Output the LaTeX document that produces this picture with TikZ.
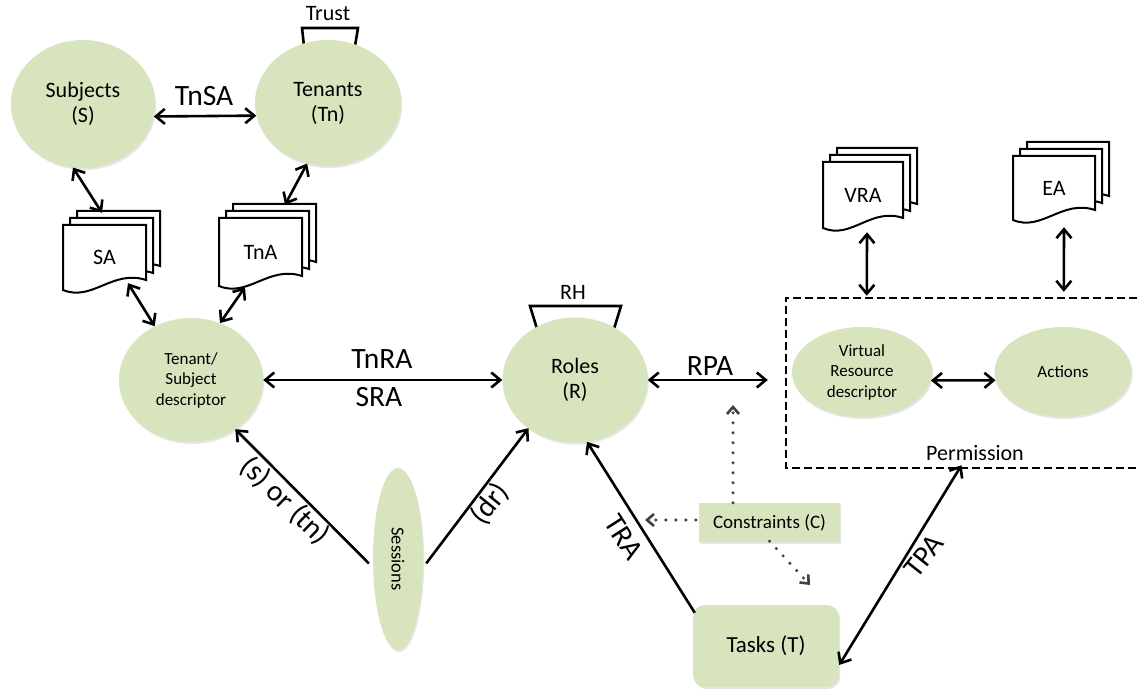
\documentclass[tikz,border=0pt]{standalone}
\usepackage{fontspec}
\setmainfont{Carlito}
\usetikzlibrary{arrows.meta,shapes.geometric,shadows}

\definecolor{leaf}{RGB}{215,228,189}
\definecolor{dotgray}{RGB}{64,64,64}

\tikzset{
  >={Straight Barb[length=9pt,width=15pt]},
  softshadow/.style={drop shadow={opacity=0.2,shadow xshift=1.2pt,shadow yshift=-2pt}},
  blob/.style={ellipse, fill=leaf, inner sep=0pt, align=center, softshadow},
  boxnode/.style={rectangle, fill=leaf, inner sep=0pt, align=center, softshadow},
  bigtxt/.style={font=\fontsize{22}{25}\selectfont},
  smalltxt/.style={font=\fontsize{17}{20.5}\selectfont},
  reltxt/.style={font=\fontsize{29.5}{32}\selectfont, inner sep=0pt},
  link/.style={line width=2.6pt},
  hint/.style={line width=3.4pt, dotgray, line cap=round, dash pattern=on 0pt off 10pt,
               -{Straight Barb[length=7pt,width=12pt,line width=2.6pt,line cap=butt]}},
  docline/.style={line width=2pt, fill=white, line join=miter},
  doclabel/.style={rectangle, inner sep=0pt, font=\fontsize{22}{24}\selectfont},
  bracket/.style={line width=2.6pt, line join=miter},
  permline/.style={line width=2.4pt, dash pattern=on 8pt off 4pt},
}

% one sheet with a wavy lower edge
\newcommand{\sheetpath}[4]{%
  \draw[docline] ({#1},{#2}) -- ({#1+#3},{#2}) -- ({#1+#3},{#2+#4})
    .. controls ({#1+0.6*#3},{#2+#4-11}) and ({#1+0.35*#3},{#2+#4+22}) .. ({#1},{#2+#4+10}) -- cycle;}
% a stack of three sheets with its label node
\newcommand{\sheetstack}[6]{%
  \sheetpath{#2+14}{#3-14}{#4}{#5}%
  \sheetpath{#2+7}{#3-7}{#4}{#5}%
  \sheetpath{#2}{#3}{#4}{#5}%
  \node[doclabel, minimum width=#4, minimum height=#5+10] (#1) at ({#2+#4/2},{#3+(#5+10)/2}) {#6};}

\begin{document}
\begin{tikzpicture}[x=1pt,y=-1pt]
\useasboundingbox (0,0) rectangle (1137,692);

% hierarchy brackets on top of Tenants and Roles
\draw[bracket] (304,46) -- (302,28) -- (358,28) -- (355,46);
\node[font=\fontsize{22}{24}\selectfont] (trust) at (328,14) {Trust};
\draw[bracket] (538,332) -- (530,306) -- (621,306) -- (613,332);
\node[font=\fontsize{22}{24}\selectfont] (rh) at (573,292) {RH};

% main entities
\node[blob, bigtxt, minimum width=144, minimum height=128] (S) at (83,104) {Subjects\\(S)};
\node[blob, bigtxt, minimum width=146, minimum height=126] (Tn) at (328,103) {Tenants\\(Tn)};
\node[blob, smalltxt, minimum width=144, minimum height=124] (TSD) at (191,380) {Tenant/\\Subject\\descriptor};
\node[blob, bigtxt, minimum width=145, minimum height=125] (R) at (575,380) {Roles\\(R)};
\node[blob, minimum width=50, minimum height=182] (Sess) at (398,559)
  {\rotatebox{-90}{\fontsize{18.5}{20}\selectfont Sessions}};
\node[boxnode, rounded corners=12pt, minimum width=146, minimum height=82,
      font=\fontsize{23}{25}\selectfont] (T) at (766,646) {Tasks (T)};
\node[boxnode, minimum width=141, minimum height=39,
      font=\fontsize{19}{22}\selectfont] (C) at (769.5,522.5) {Constraints (C)};

% permission group
\node[rectangle, inner sep=0pt, minimum width=351, minimum height=170] (perm) at (961.5,383) {};
\draw[permline] (perm.north east) -- (perm.north west) -- (perm.south west) -- (perm.south east);
\node[font=\fontsize{22}{24}\selectfont] (permlbl) at (975,453) {Permission};
\node[blob, smalltxt, minimum width=140, minimum height=90] (VRD) at (862,372) {Virtual\\Resource\\descriptor};
\node[blob, smalltxt, minimum width=137, minimum height=90] (Act) at (1063,372) {Actions};

% assignment documents
\sheetstack{SA}{63}{225}{83}{55}{SA}
\sheetstack{TnA}{219}{218}{83}{58}{TnA}
\sheetstack{VRA}{823}{162}{80}{56}{VRA}
\sheetstack{EA}{1013}{156}{82}{54}{EA}

% relations
\draw[link,<->] (S.-10) -- (Tn.190);
\node[reltxt] (tnsa) at (204,96) {TnSA};
\draw[link,<->] (S.-99) -- ([shift={(-2.5,-12)}]SA.north);
\draw[link,<->] (Tn.-109) -- ([shift={(24.5,-13)}]TnA.north);
\draw[link,<->] ([shift={(23.5,-7)}]SA.south) -- (TSD.124);
\draw[link,<->] ([shift={(-15.5,1)}]TnA.south) -- (TSD.63);
\draw[link,<->] (TSD.east) -- (R.west);
\node[reltxt] (tnra) at (382,359) {TnRA};
\node[reltxt] (sra) at (379,397) {SRA};
\draw[link,<->] (R.east) -- ([shift={(-18,-3)}]perm.west);
\node[reltxt] (rpa) at (710,366) {RPA};
\draw[link,<->] (VRD.-7) -- (Act.187);
\draw[link,<->] ([shift={(4,4)}]VRA.south) -- ([shift={(81,-2)}]perm.north west);
\draw[link,<->] ([shift={(10,7)}]EA.south) -- ([shift={(278,-6)}]perm.north west);

% sessions
\draw[link,->] ([xshift=-4]Sess.190) -- (TSD.-48);
\node[reltxt, rotate=-44] (sortn) at (285,501) {(s) or (tn)};
\draw[link,->] ([xshift=3]Sess.-10) -- (R.-134);
\node[reltxt, rotate=51] (dr) at (490,504) {(dr)};

% tasks
\draw[link,->] ([shift={(2,8)}]T.north west) -- (R.-79);
\node[reltxt, rotate=-57.5] (tra) at (624,537) {TRA};
\draw[link,<->] ([yshift=-19]T.east) -- ([yshift=3]perm.south);
\node[reltxt, rotate=51.8] (tpa) at (924,556) {TPA};

% constraints
\coordinate (cUp) at (733,405);
\coordinate (cLeft) at (645,520);
\coordinate (cDown) at (810,585);
\draw[hint] ([xshift=-36.5]C.north) -- (cUp);
\draw[hint] ([shift={(-3,-2.5)}]C.west) -- (cLeft);
\draw[hint] ([yshift=1]C.south) -- (cDown);
\end{tikzpicture}
\end{document}
